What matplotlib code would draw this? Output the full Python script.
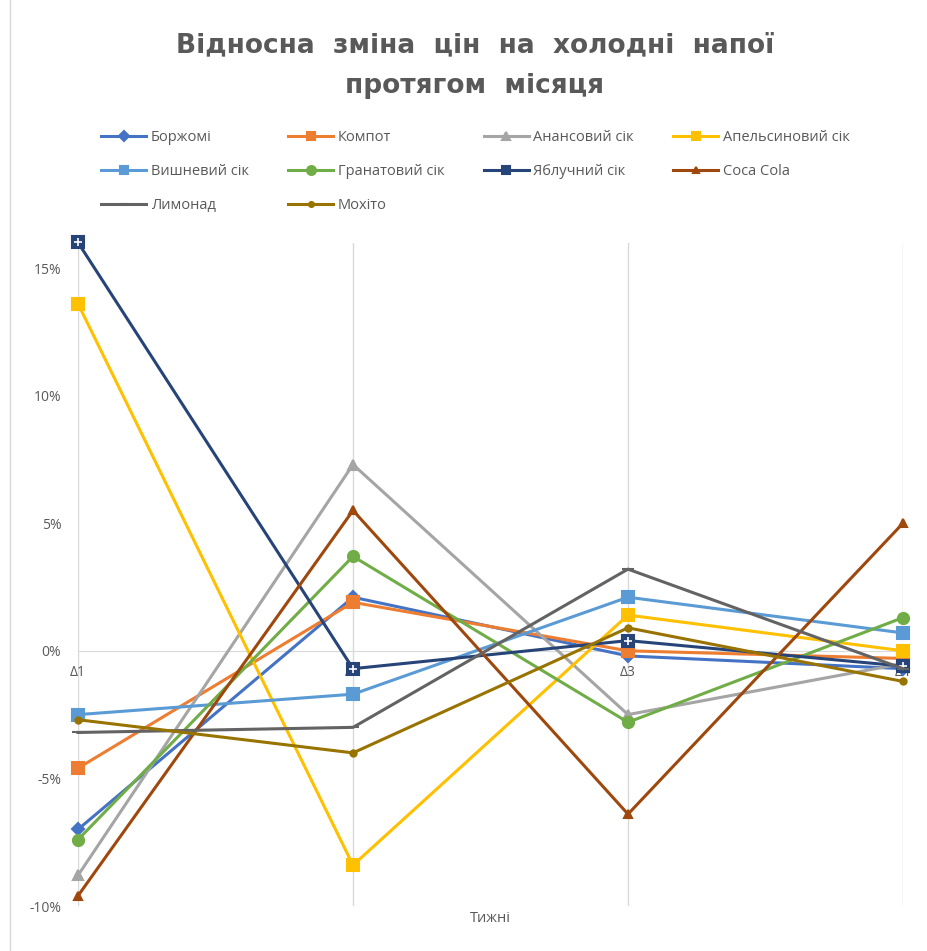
import matplotlib
matplotlib.use("Agg")
import matplotlib.pyplot as plt
from matplotlib.lines import Line2D

plt.rcParams['font.family'] = ['Open Sans', 'DejaVu Sans']

weeks = ["Δ1", "Δ2", "Δ3", "Δ4"]
names = ["Боржомі", "Компот", "Анансовий сік", "Апельсиновий сік",
         "Вишневий сік", "Гранатовий сік", "Яблучний сік", "Coca Cola",
         "Лимонад", "Мохіто"]

borjomi = [-7.0, 2.1, -0.2, -0.7]
kompot = [-4.6, 1.9, 0.0, -0.3]
ananas = [-8.8, 7.3, -2.5, -0.5]
orange = [13.6, -8.4, 1.4, 0.0]
cherry = [-2.5, -1.7, 2.1, 0.7]
granat = [-7.4, 3.7, -2.8, 1.3]
apple = [16.0, -0.7, 0.4, -0.6]
cola = [-9.6, 5.5, -6.4, 5.0]
lemonade = [-3.2, -3.0, 3.2, -0.7]
mojito = [-2.7, -4.0, 0.9, -1.2]

series = [borjomi, kompot, ananas, orange, cherry, granat, apple, cola, lemonade, mojito]
colors = ["#4472C4", "#ED7D31", "#A5A5A5", "#FFC000", "#5B9BD5",
          "#70AD47", "#264478", "#9E480E", "#636363", "#997300"]
markers = ["D", "s", "^", "s", "s", "o", "s", "^", "_", "o"]
msizes = [6, 8, 7, 8, 8, 8, 8, 6, 9, 4.5]

fig = plt.figure(figsize=(9.27, 9.51), dpi=100)
ax = fig.add_axes([78 / 927, 1 - 906 / 951, 825 / 927, (906 - 242.5) / 951])

x = list(range(len(weeks)))
handles = []
for vals, name, c, m, ms in zip(series, names, colors, markers, msizes):
    h, = ax.plot(x, vals, color=c, lw=2.2, marker=m, ms=ms,
                 mec=c, mfc=c, mew=1.5, label=name, clip_on=False, zorder=3)
    if name == "Яблучний сік":
        ax.plot(x, vals, ls="none", marker="+", ms=6, mew=1.2,
                color="white", clip_on=False, zorder=3)
    handles.append(h)

ax.set_xlim(0, 3)
ax.set_ylim(-10, 16)
ax.set_yticks([-10, -5, 0, 5, 10, 15])
ax.set_yticklabels(["-10%", "-5%", "0%", "5%", "10%", "15%"])
ax.set_xticks(x)
ax.set_xticklabels(weeks)
ax.spines['bottom'].set_position(('data', 0))
ax.spines['bottom'].set_color("#D9D9D9")
for s in ['top', 'right', 'left']:
    ax.spines[s].set_visible(False)
ax.tick_params(axis='both', length=0, colors="#595959", labelsize=10)
ax.tick_params(axis='y', pad=12)
ax.tick_params(axis='x', pad=10)
ax.grid(axis='x', color="#D9D9D9", lw=1)
ax.set_axisbelow(True)

fig.text(490 / 927, 1 - 918 / 951, "Тижні", ha='center', va='center',
         fontsize=10.5, color="#595959")

fig.text(475 / 927, 1 - 45 / 951, "Відносна  зміна  цін  на  холодні  напої",
         ha='center', va='center', fontsize=19, fontweight='bold',
         color="#595959", family='DejaVu Sans')
fig.text(475 / 927, 1 - 86 / 951, "протягом  місяця",
         ha='center', va='center', fontsize=19, fontweight='bold',
         color="#595959", family='DejaVu Sans')

order = [0, 4, 8, 1, 5, 9, 2, 6, 3, 7]
leg = fig.legend([handles[i] for i in order], [names[i] for i in order],
                 ncol=4, frameon=False, loc='upper left',
                 bbox_to_anchor=(88 / 927, 1 - 117 / 951),
                 fontsize=10.5, handlelength=3.1, handletextpad=0.3,
                 columnspacing=2.7, labelspacing=1.3, markerscale=0.8,
                 labelcolor="#595959")

fig.add_artist(Line2D([10 / 927, 10 / 927], [0, 1], color="#D9D9D9", lw=1))

fig.savefig("out.png", dpi=100)
